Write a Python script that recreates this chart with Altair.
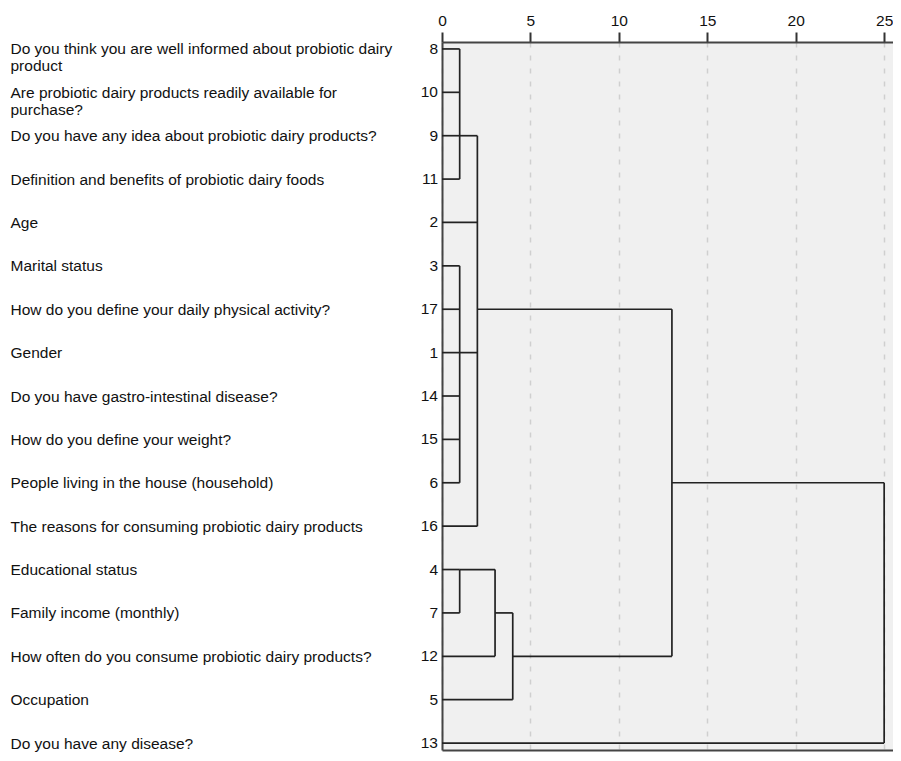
import altair as alt
import pandas as pd

# ---- data ----
items = ["8", "10", "9", "11", "2", "3", "17", "1", "14", "15", "6", "16", "4", "7", "12", "5", "13"]
questions = [
    "Do you think you are well informed about probiotic dairy|product",
    "Are probiotic dairy products readily available for|purchase?",
    "Do you have any idea about probiotic dairy products?",
    "Definition and benefits of probiotic dairy foods",
    "Age",
    "Marital status",
    "How do you define your daily physical activity?",
    "Gender",
    "Do you have gastro-intestinal disease?",
    "How do you define your weight?",
    "People living in the house (household)",
    "The reasons for consuming probiotic dairy products",
    "Educational status",
    "Family income (monthly)",
    "How often do you consume probiotic dairy products?",
    "Occupation",
    "Do you have any disease?",
]
ticks = [0, 5, 10, 15, 20, 25]

# horizontal segments: (item row, start distance, end distance)
h_item = ["8", "10", "9", "11", "2", "3", "17", "1", "14", "15", "6", "16",
          "4", "7", "12", "5", "13", "9", "1", "17", "4", "7", "12", "6"]
h_start = [0, 0, 0, 0, 0, 0, 0, 0, 0, 0, 0, 0, 0, 0, 0, 0, 0, 1, 1, 2, 1, 3, 4, 13]
h_end = [1, 1, 1, 1, 2, 1, 1, 1, 1, 1, 1, 2, 1, 1, 3, 4, 25, 2, 2, 13, 3, 4, 13, 25]

# vertical segments: (distance, from item row, to item row)
v_x = [1, 1, 2, 1, 3, 4, 13, 25]
v_from = ["8", "3", "9", "4", "4", "7", "17", "6"]
v_to = ["11", "6", "16", "7", "12", "5", "12", "13"]

q_of = dict(zip(items, questions))

hdf = pd.DataFrame({"q": [q_of[i] for i in h_item], "x1": h_start, "x2": h_end})
vdf = pd.DataFrame({"x": v_x, "q1": [q_of[i] for i in v_from], "q2": [q_of[i] for i in v_to]})
ndf = pd.DataFrame({"q": questions, "item": items})

FONT = "Liberation Sans"
FS = 15.5
LINE = "#222222"

xscale = alt.Scale(domain=[0, 25.5], nice=False, zero=False)
yscale = alt.Scale(type="point", padding=0.16, domain=questions)

yaxis = alt.Axis(
    orient="left", title=None, ticks=False, tickSize=0, grid=False,
    labelAlign="left", labelPadding=432, labelLimit=600,
    labelFont=FONT, labelFontSize=FS, labelColor="#111", labelLineHeight=17,
    labelExpr="split(datum.value, '|')",
    domain=True, domainColor="#444", domainWidth=2,
)

top_axis = alt.Axis(
    orient="top", title=None, values=ticks, format="d",
    labelFont=FONT, labelFontSize=FS, labelColor="#111", labelPadding=4, labelFlush=False,
    tickSize=10, tickWidth=2, tickColor="#333",
    domain=True, domainColor="#444", domainWidth=2,
    grid=True, gridDash=[5, 8], gridColor="#cfcfcf", gridWidth=1.5,
)

bottom_axis = alt.Axis(
    orient="bottom", title=None, labels=False, ticks=False, grid=False,
    domain=True, domainColor="#444", domainWidth=2,
)

horiz = alt.Chart(hdf).mark_rule(color=LINE, strokeWidth=1.7).encode(
    x=alt.X("x1:Q", scale=xscale, axis=top_axis),
    x2="x2:Q",
    y=alt.Y("q:N", sort=questions, scale=yscale, axis=yaxis),
)

vert = alt.Chart(vdf).mark_rule(color=LINE, strokeWidth=1.7).encode(
    x=alt.X("x:Q", scale=xscale, axis=bottom_axis),
    y=alt.Y("q1:N", sort=questions, scale=yscale, axis=yaxis),
    y2="q2:N",
)

nums = alt.Chart(ndf).mark_text(
    align="right", baseline="middle", dx=-4, font=FONT, fontSize=FS, color="#111"
).encode(
    x=alt.datum(0, scale=xscale, axis=None),
    y=alt.Y("q:N", sort=questions, scale=yscale, axis=yaxis),
    text="item:N",
)

chart = alt.layer(horiz, vert, nums).resolve_axis(x="independent").properties(
    width=451,
    height=708,
    autosize=alt.AutoSizeParams(type="none"),
    padding={"left": 434, "top": 34, "right": 0, "bottom": 2},
    background="white",
).configure_view(fill="#f0f0f0", stroke=None)

chart.save("out.html", embed_options={"renderer": "svg", "actions": False})
